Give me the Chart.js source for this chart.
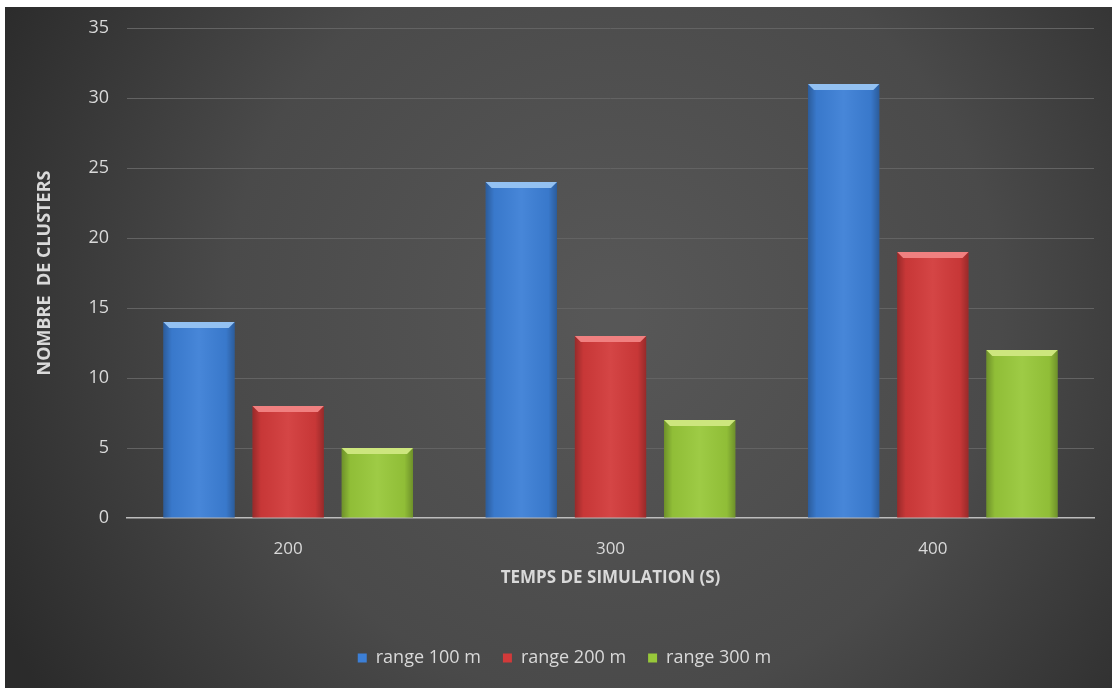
<!DOCTYPE html>
<html>
<head>
<meta charset="utf-8">
<script src="https://cdn.jsdelivr.net/npm/chart.js@4"></script>
<style>
  html, body { margin: 0; padding: 0; background: #ffffff; }
  .wrap { position: absolute; left: 5px; top: 7px; width: 1107px; height: 681px; }
</style>
</head>
<body>
<div class="wrap"><canvas id="chart"></canvas></div>
<script>
// Simulation times and cluster counts per transmission range
const categories = ["200", "300", "400"];
const range100 = [14, 24, 31];
const range200 = [8, 13, 19];
const range300 = [5, 7, 12];
const seriesNames = ["range 100 m", "range 200 m", "range 300 m"];

const baseColors = ["#3c7fd6", "#d23a3a", "#98c83a"];
const topColors = ["#93c1f2", "#f08080", "#cde67e"];
const textColor = "#d9d9d9";
const fontFamily = "'Open Sans', 'Noto Sans', sans-serif";

// dark radial backdrop behind everything
const backdrop = {
  id: "backdrop",
  beforeDraw(chart) {
    const { ctx, width, height } = chart;
    const g = ctx.createRadialGradient(width * 0.55, height * 0.45, 20, width * 0.55, height * 0.45, width * 0.62);
    g.addColorStop(0, "#575757");
    g.addColorStop(0.55, "#4a4a4a");
    g.addColorStop(1, "#2b2b2b");
    ctx.save();
    ctx.fillStyle = g;
    ctx.fillRect(0, 0, width, height);
    ctx.restore();
  }
};

// nudge the legend row a little to the right of centre
const legendShift = {
  id: "legendShift",
  afterLayout(chart) {
    chart.legend.left += 15;
    chart.legend.right += 15;
  }
};

// side shading and a bevelled top on every bar
const bevel = {
  id: "bevel",
  afterDatasetsDraw(chart) {
    const ctx = chart.ctx;
    chart.data.datasets.forEach((ds, di) => {
      const meta = chart.getDatasetMeta(di);
      meta.data.forEach((bar) => {
        const left = bar.x - bar.width / 2;
        const right = bar.x + bar.width / 2;
        const top = bar.y;
        const bottom = bar.base;
        const b = 6;
        ctx.save();
        const sh = ctx.createLinearGradient(left, 0, right, 0);
        sh.addColorStop(0, "rgba(0,0,0,0.28)");
        sh.addColorStop(0.12, "rgba(0,0,0,0.05)");
        sh.addColorStop(0.5, "rgba(255,255,255,0.06)");
        sh.addColorStop(0.88, "rgba(0,0,0,0.05)");
        sh.addColorStop(1, "rgba(0,0,0,0.28)");
        ctx.fillStyle = sh;
        ctx.fillRect(left, top, right - left, bottom - top);
        ctx.beginPath();
        ctx.moveTo(left, top);
        ctx.lineTo(right, top);
        ctx.lineTo(right - b, top + b);
        ctx.lineTo(left + b, top + b);
        ctx.closePath();
        ctx.fillStyle = topColors[di];
        ctx.fill();
        ctx.restore();
      });
    });
  }
};

const ctx = document.getElementById("chart").getContext("2d");

new Chart(ctx, {
  type: "bar",
  data: {
    labels: categories,
    datasets: [range100, range200, range300].map((values, i) => ({
      label: seriesNames[i],
      data: values,
      backgroundColor: baseColors[i],
      borderWidth: 0,
      categoryPercentage: 0.83,
      barPercentage: 0.8
    }))
  },
  options: {
    responsive: true,
    maintainAspectRatio: false,
    animation: false,
    layout: { padding: { top: 21, right: 18, bottom: 11, left: 0 } },
    scales: {
      x: {
        grid: { display: false },
        border: { color: "#bdbdbd", width: 1.5 },
        ticks: { color: textColor, font: { size: 17, family: fontFamily }, padding: 13 },
        title: {
          display: true,
          text: "TEMPS DE SIMULATION (S)",
          color: textColor,
          font: { size: 17, weight: "bold", family: fontFamily },
          padding: { top: 0, bottom: 39 }
        },
        afterFit(scale) { scale.height = 109; }
      },
      y: {
        min: 0,
        max: 35,
        ticks: { stepSize: 5, color: textColor, font: { size: 18, family: fontFamily }, padding: 4 },
        grid: {
          drawTicks: true,
          tickLength: 14,
          tickColor: "rgba(0,0,0,0)",
          color: (c) => (c.tick && c.tick.value === 0 ? "rgba(0,0,0,0)" : "#636363")
        },
        border: { display: false },
        title: {
          display: true,
          text: "NOMBRE  DE CLUSTERS",
          color: textColor,
          font: { size: 18, weight: "bold", family: fontFamily },
          padding: { top: 29, bottom: 0 }
        },
        afterFit(scale) { scale.width = 122; }
      }
    },
    plugins: {
      legend: {
        position: "bottom",
        labels: {
          color: textColor,
          boxWidth: 9,
          boxHeight: 9,
          padding: 22,
          font: { size: 18, family: fontFamily }
        }
      },
      tooltip: { enabled: false }
    }
  },
  plugins: [backdrop, legendShift, bevel]
});
</script>
</body>
</html>
